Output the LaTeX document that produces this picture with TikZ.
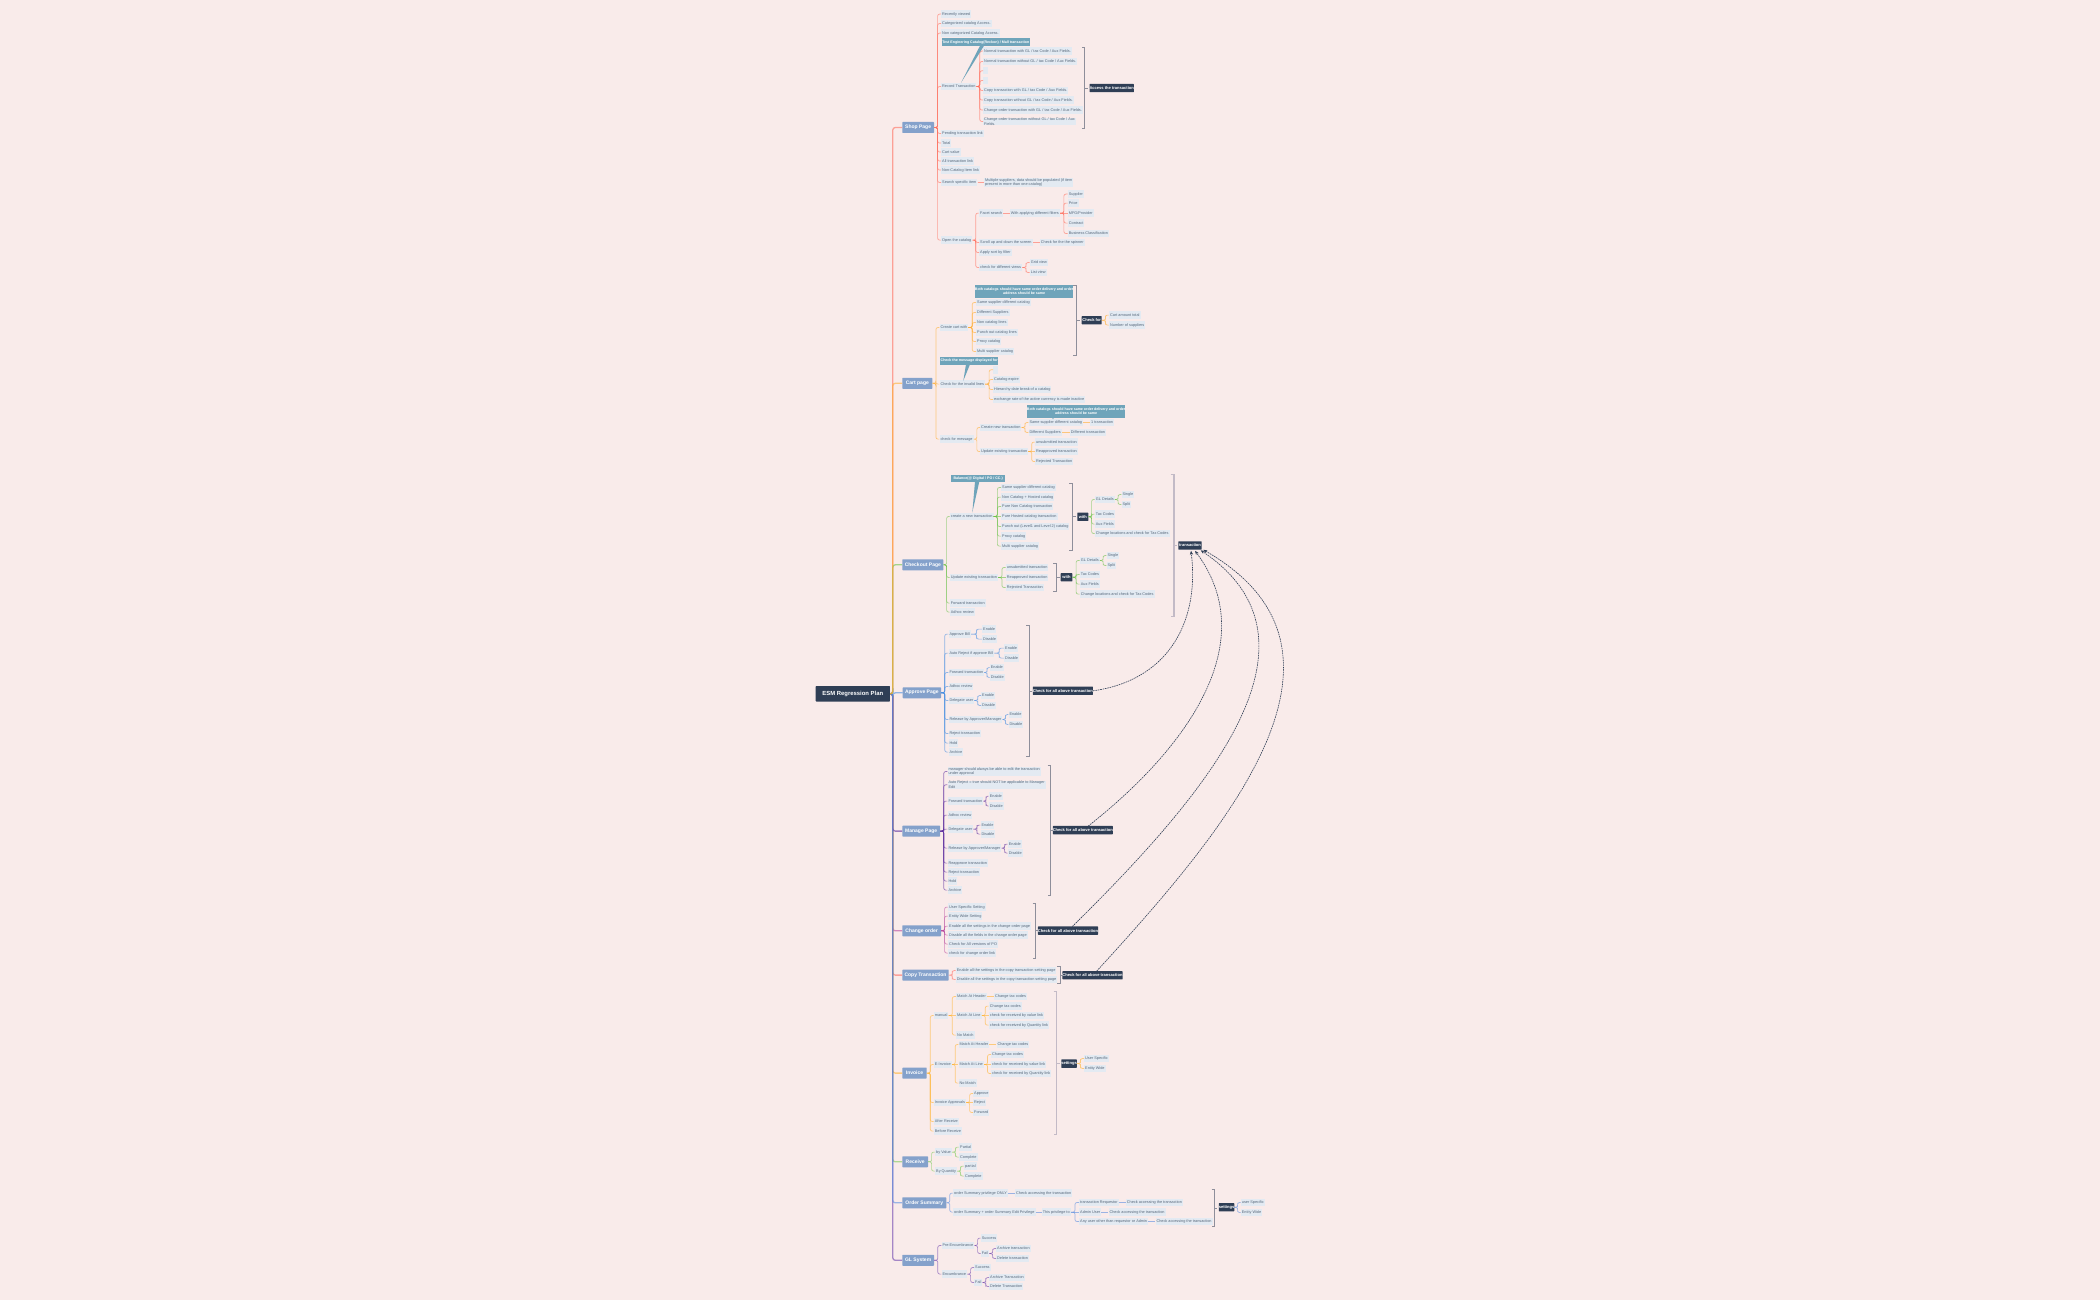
\documentclass[tikz,border=0pt]{standalone}
\usepackage{fontspec}
\setmainfont{Liberation Sans}
\usetikzlibrary{calc,arrows.meta}
\definecolor{bgc}{HTML}{F9EBEA}
\definecolor{leafc}{HTML}{E3EAF2}
\definecolor{leaft}{HTML}{56677A}
\definecolor{pagec}{HTML}{84A1CB}
\definecolor{darkc}{HTML}{2F3E55}
\definecolor{callc}{HTML}{6FA4BA}
\definecolor{brc}{HTML}{8E8E9A}
\definecolor{brl}{HTML}{C3BAC6}
\definecolor{cShop}{HTML}{FF6F5E}
\definecolor{cCart}{HTML}{FFAE33}
\definecolor{cChk}{HTML}{6CC24A}
\definecolor{cApp}{HTML}{4A90E2}
\definecolor{cMan}{HTML}{5E2FA0}
\definecolor{cChg}{HTML}{B8479E}
\definecolor{cCop}{HTML}{FF6F66}
\definecolor{cInv}{HTML}{FFB433}
\definecolor{cRec}{HTML}{7CCB5A}
\definecolor{cSum}{HTML}{5B8FE0}
\definecolor{cGL}{HTML}{6E44AE}
\tikzset{
 leafnode/.style={fill=leafc,text=leaft,inner xsep=1pt,inner ysep=0pt,minimum height=7.4pt,anchor=west,align=left,font=\fontsize{3.82}{4.7}\selectfont},
 pagenode/.style={fill=pagec,text=white,inner sep=0pt,rounded corners=.6pt,font=\fontsize{5}{6}\selectfont\bfseries},
 darknode/.style={fill=darkc,text=white,inner sep=0pt,rounded corners=.5pt,font=\fontsize{4.05}{4.8}\selectfont\bfseries},
 rootnode/.style={fill=darkc,text=white,inner sep=0pt,rounded corners=.6pt,font=\fontsize{5.9}{7.5}\selectfont\bfseries},
 callnode/.style={fill=callc,text=white,inner sep=0pt,align=center,font=\fontsize{3.6}{4.7}\selectfont\bfseries},
 conn/.style={line width=.7pt,rounded corners=2pt,opacity=.6},
 trunkc/.style={line width=1.3pt,rounded corners=2.5pt,opacity=.6},
 bracket/.style={line width=.6pt,draw=brc},
 bracketl/.style={line width=1.1pt,draw=brl},
 dasharrow/.style={draw=darkc,line width=.6pt,dash pattern=on 1.6pt off .8pt,-{Stealth[length=4pt,width=3.2pt]}},
}
\newcommand\Lf[4]{\node[leafnode,xshift=-1pt] (#1) at (#2,#3) {#4};}
\newcommand\Em[3]{\node[leafnode,xshift=-1pt,minimum width=5pt] (#1) at (#2,#3) {};}
\newcommand\Pg[5]{\node[pagenode,minimum width={(#3-#2)*1pt},minimum height=11pt] (#1) at ({(#2+#3)/2},#4) {#5};}
\newcommand\Dk[5]{\node[darknode,minimum width={(#3-#2)*1pt},minimum height=8.3pt] (#1) at ({(#2+#3)/2},#4) {#5};}
\newcommand\Cl[6]{\node[callnode,minimum width={(#3-#2)*1pt},minimum height={(#5-#4)*1pt}] (#1) at ({(#2+#3)/2},{(#4+#5)/2}) {#6};}
\newcommand\Lk[3]{\foreach \cc in {#3}{%
  \path let \p1=(#2.east),\p2=(\cc.west),\n1={abs(\y1-\y2)} in \pgfextra{\xdef\dyval{\n1}};%
  \ifdim\dyval<0.8pt
    \draw[conn,draw=#1] (#2.east) -- (\cc.west);%
  \else
    \draw[conn,draw=#1] (#2.east) -| ($(#2.east)!.5!(\cc.west)$) |- (\cc.west);%
  \fi}}
\newcommand\Tk[2]{\draw[trunkc,draw=#1] (root.east) -| ($(root.east)!.22!(#2.west)$) |- (#2.west);}
\newcommand\Br[6][bracket]{\coordinate (#6t) at (#3,{(#4+#5)/2});\draw[#1] (#2,#4) -- (#3,#4) -- (#3,#5) -- (#2,#5);\draw[#1] (#6t) -- ++(2.8,0);}
\begin{document}
\begin{tikzpicture}[x=1pt,y=-1pt]
\fill[bgc] (0,-0.8) rectangle (2100,1299.2);
\useasboundingbox (0,-0.8) rectangle (2100,1299.2);
% root and pages
\node[rootnode,minimum width=74.3pt,minimum height=15.4pt] (root) at (852.8,693) {ESM Regression Plan};
\Pg{shop}{902.3}{934}{126.7}{Shop Page}
\Pg{cart}{902.3}{932.3}{382.5}{Cart page}
\Pg{chk}{902.3}{943.3}{564}{Checkout Page}
\Pg{app}{902.7}{941}{692}{Approve Page}
\Pg{man}{902.3}{940}{830.3}{Manage Page}
\Pg{chg}{902.3}{941}{930}{Change order}
\Pg{cop}{902.3}{948.7}{974.3}{Copy Transaction}
\Pg{inv}{902.3}{926.7}{1072.3}{Invoice}
\Pg{rcv}{902.3}{928}{1161}{Receive}
\Pg{sum}{902.3}{946.3}{1202}{Order Summary}
\Pg{gls}{902.3}{934}{1259.5}{GL System}
% Shop page
\Lf{rv}{942}{13.3}{Recently viewed}
\Lf{cat}{942}{22.7}{Categorized catalog Access.}
\Lf{ncat}{942}{32.3}{Non categorized Catalog Access.}
\Cl{cbA}{941.5}{1030}{37.7}{45.3}{Test Enginering Catalog(Reckon) / Mall transaction}
\Lf{rec}{942}{85.7}{Record Transaction}
\Lf{na}{984}{50.3}{Normal transaction with GL / tax Code / Aux Fields.}
\Lf{nb}{984}{60.7}{Normal transaction without GL / tax Code / Aux Fields.}
\Em{ea}{984}{70}
\Em{eb}{984}{79.7}
\Lf{nc}{984}{89.7}{Copy transaction with GL / tax Code / Aux Fields.}
\Lf{nd}{984}{99.3}{Copy transaction without GL / tax Code / Aux Fields.}
\Lf{ne}{984}{109.3}{Change order transaction with GL / tax Code / Aux Fields.}
\Lf{nf}{984}{120.7}{Change order transaction without GL / tax Code / Aux\\Fields.}
\Dk{dA}{1089.7}{1133.7}{87.3}{Access the transaction}
\Lf{pend}{942}{132.7}{Pending transaction link}
\Lf{tot}{942}{142.3}{Total}
\Lf{cv}{942}{151.3}{Cart value}
\Lf{allt}{942}{160.3}{All transaction link}
\Lf{nci}{942}{169.3}{Non-Catalog Item link}
\Lf{ss}{942}{181.7}{Search specific item}
\Lf{mult}{985}{181.7}{Multiple suppliers, data should be populated (if item\\present in more than one catalog)}
\Lf{oc}{942}{239.3}{Open the catalog}
\Lf{fs}{980}{212.3}{Facet search}
\Lf{wa}{1010.7}{212.3}{With applying different filters}
\Lf{fa}{1068.7}{193.3}{Supplier}
\Lf{fb}{1068.7}{202.3}{Price}
\Lf{fc}{1068.7}{212.3}{MFG/Provider}
\Lf{fd}{1068.7}{222.3}{Contract}
\Lf{fe}{1068.7}{232.7}{Business Classification}
\Lf{sc}{980}{241.7}{Scroll up and down the screen}
\Lf{spin}{1040.7}{241.7}{Check for the the spinner}
\Lf{asf}{980}{251.7}{Apply sort by filter}
\Lf{dv}{980}{266.7}{check for different views}
\Lf{gv}{1030.7}{261.7}{Grid view}
\Lf{lv}{1030.7}{271.7}{List view}
% Cart page
\Cl{cbB}{977}{1071.3}{284}{296.7}{Both catalogs should have same order delivery and order\\address should be same}
\Lf{cca}{977}{301.7}{Same supplier different catalog}
\Lf{ccb}{977}{311.7}{Different Suppliers}
\Lf{ccc}{977}{321.7}{Non catalog lines}
\Lf{ccd}{977}{331.7}{Punch out catalog lines}
\Lf{cce}{977}{340.7}{Proxy catalog}
\Lf{ccf}{977}{350.7}{Multi supplier catalog}
\Lf{cc}{940.3}{326.7}{Create cart with}
\Dk{dB}{1081.7}{1101.7}{319.5}{Check for}
\Lf{camt}{1110}{314.3}{Cart amount total}
\Lf{cnum}{1110}{324.3}{Number of suppliers}
\Cl{cbC}{940}{998.3}{356.3}{363.7}{Check the message displayed for}
\Lf{ci}{940.3}{383.3}{Check for the invalid lines}
\Em{ec}{994}{369}
\Lf{ce}{994}{378.7}{Catalog expire}
\Lf{hd}{994}{388.7}{Hierarchy date break of a catalog}
\Lf{ex}{994}{398.7}{exchange rate of the active currency is made inactive}
\Lf{cm}{940.3}{438.3}{check for message}
\Cl{cbD}{1029}{1123.3}{404.3}{416.7}{Both catalogs should have same order delivery and order\\address should be same}
\Lf{cn}{981}{426.7}{Create new transaction}
\Lf{sa}{1029.3}{421.7}{Same supplier different catalog}
\Lf{onet}{1091}{421.7}{1 transaction}
\Lf{sb}{1029.3}{431.7}{Different Suppliers}
\Lf{dift}{1070.7}{431.7}{Different transaction}
\Lf{cu}{981}{450.7}{Update existing transaction}
\Lf{cua}{1036}{441.3}{unsubmitted transaction}
\Lf{cub}{1036}{450.7}{Reapproved transaction}
\Lf{cuc}{1036}{460.7}{Rejected Transaction}
% Checkout
\Cl{cbE}{951}{1005.3}{474}{481}{Balance(@ Digital / PO / CC.)}
\Lf{kn}{950.7}{515.7}{create a new transaction}
\Lf{ka}{1002}{486.7}{Same supplier different catalog}
\Lf{kb}{1002}{496.3}{Non Catalog + Hosted catalog}
\Lf{kc}{1002}{505.7}{Pure Non Catalog transaction}
\Lf{kd}{1002}{515.7}{Pure Hosted catalog transaction}
\Lf{ke}{1002}{525.7}{Punch out (Level1 and Level 2) catalog}
\Lf{kf}{1002}{535.3}{Proxy catalog}
\Lf{kg}{1002}{545.3}{Multi supplier catalog}
\Dk{dC}{1077.3}{1088.3}{516}{with}
\Lf{ga}{1095.7}{498.7}{GL Details}
\Lf{gb}{1122.3}{493.7}{Single}
\Lf{gc}{1122.3}{503.7}{Split}
\Lf{gd}{1095.7}{513.3}{Tax Codes}
\Lf{ge}{1095.7}{523.3}{Aux Fields}
\Lf{gf}{1095.7}{532.7}{Change locations and check for Tax Codes}
\Lf{ku}{950.7}{576.7}{Update existing transaction}
\Lf{ua}{1006.7}{566.7}{unsubmitted transaction}
\Lf{ub}{1006.7}{576.7}{Reapproved transaction}
\Lf{uc}{1006.7}{586.7}{Rejected Transaction}
\Dk{dD}{1060.7}{1072.3}{576.5}{with}
\Lf{ha}{1080.7}{559.7}{GL Details}
\Lf{hb}{1107.3}{554.7}{Single}
\Lf{hc}{1107.3}{564.7}{Split}
\Lf{hd2}{1080.7}{573.7}{Tax Codes}
\Lf{he}{1080.7}{583.3}{Aux Fields}
\Lf{hf}{1080.7}{593.3}{Change locations and check for Tax Codes}
\Lf{kfw}{950.7}{602.3}{Forward transaction}
\Lf{kad}{950.7}{611.3}{Adhoc review}
\Dk{tr}{1178.3}{1201.7}{544.7}{transaction}
% Approve
\Lf{aa}{949.3}{633.3}{Approve Bill}
\Lf{aae}{983}{628.3}{Enable}
\Lf{aad}{983}{638.3}{Disable}
\Lf{ab}{949.3}{652.3}{Auto Reject if approve Bill}
\Lf{abe}{1005}{647.3}{Enable}
\Lf{abd}{1005}{657.3}{Disable}
\Lf{ac}{949.3}{671.7}{Forward transaction}
\Lf{ace}{990.7}{666.7}{Enable}
\Lf{acd}{990.7}{676.7}{Disable}
\Lf{ad}{949.3}{685.7}{Adhoc review}
\Lf{ae}{949.3}{699.7}{Delegate user}
\Lf{aee}{982}{694.7}{Enable}
\Lf{aed}{982}{704.7}{Disable}
\Lf{af}{949.3}{718.7}{Release by Approver/Manager}
\Lf{afe}{1009.3}{713.7}{Enable}
\Lf{afd}{1009.3}{723.7}{Disable}
\Lf{ag}{949.3}{732.7}{Reject transaction}
\Lf{ah}{949.3}{742.3}{Hold}
\Lf{ai}{949.3}{751.3}{Archive}
\Dk{dE}{1033.7}{1092}{690}{Check for all above transaction}
% Manage
\Lf{ma}{948.3}{770.7}{manager should always be able to edit the transaction\\under approval}
\Lf{mb}{948.3}{784}{Auto Reject = true should NOT be applicable to Manager\\Edit}
\Lf{mc}{948.3}{800.3}{Forward transaction}
\Lf{mce}{989.7}{795.3}{Enable}
\Lf{mcd}{989.7}{805.3}{Disable}
\Lf{md}{948.3}{814.3}{Adhoc review}
\Lf{me}{948.3}{828.3}{Delegate user}
\Lf{mee}{981.3}{824.3}{Enable}
\Lf{med}{981.3}{833.3}{Disable}
\Lf{mf}{948.3}{847.3}{Release by Approver/Manager}
\Lf{mfe}{1008.7}{843.3}{Enable}
\Lf{mfd}{1008.7}{852.3}{Disable}
\Lf{mg}{948.3}{862.3}{Reapprove transaction}
\Lf{mh}{948.3}{871.3}{Reject transaction}
\Lf{mi}{948.3}{880.3}{Hold}
\Lf{mj}{948.3}{889.3}{Archive}
\Dk{dF}{1055}{1110.7}{829.3}{Check for all above transaction}
% Change order
\Lf{oa}{949}{906.3}{User Specific Setting}
\Lf{ob}{949}{915.3}{Entity Wide Setting}
\Lf{occ}{949}{925.3}{Enable all the settings in the change order page}
\Lf{od}{949}{934.3}{Disable all the fields in the change order page}
\Lf{oe}{949}{943.3}{Check for All versions of PO}
\Lf{of}{949}{952.3}{check for change order link}
\Dk{dG}{1040}{1096}{929.8}{Check for all above transaction}
% Copy
\Lf{pa}{956.7}{969.7}{Enable all the settings in the copy transaction setting page}
\Lf{pb}{956.7}{978.7}{Disable all the settings in the copy transaction setting page}
\Dk{dH}{1064.7}{1120.3}{974.5}{Check for all above transaction}
% Invoice
\Lf{im}{934.7}{1014.7}{manual}
\Lf{ima}{957}{995.7}{Match At Header}
\Lf{imb}{995}{995.7}{Change tax codes}
\Lf{imc}{957}{1014.7}{Match At Line}
\Lf{imd}{989.7}{1005.3}{Change tax codes}
\Lf{ime}{989.7}{1014.7}{check for received by value link}
\Lf{imf}{989.7}{1024.3}{check for received by Quantity link}
\Lf{img}{957}{1034.3}{No Match}
\Lf{ie}{934.7}{1063.7}{E-Invoice}
\Lf{iea}{959.3}{1043.7}{Match At Header}
\Lf{ieb}{997.3}{1043.7}{Change tax codes}
\Lf{iec}{959.3}{1063.7}{Match At Line}
\Lf{ied}{992}{1053.7}{Change tax codes}
\Lf{iee}{992}{1063.7}{check for received by value link}
\Lf{ief}{992}{1072.7}{check for received by Quantity link}
\Lf{ieg}{959.3}{1082.3}{No Match}
\Lf{ia}{934.7}{1101.7}{Invoice Approvals}
\Lf{iaa}{974}{1092.7}{Approve}
\Lf{iab}{974}{1101.7}{Reject}
\Lf{iac}{974}{1111.7}{Forward}
\Lf{ib}{934.7}{1120.7}{After  Receive}
\Lf{ic}{934.7}{1130.3}{Before  Receive}
\Dk{dI}{1061.3}{1076.7}{1062.8}{settings}
\Lf{su}{1085}{1057.7}{User Specific}
\Lf{sw}{1085}{1067.7}{Entity Wide}
% Receive
\Lf{ra}{936}{1151.3}{by Value}
\Lf{rb}{960}{1146.3}{Partial}
\Lf{rc}{960}{1156.3}{Complete}
\Lf{rd}{936}{1170.3}{By Quantity}
\Lf{re}{965}{1165.3}{partial}
\Lf{rf}{965}{1175.3}{Complete}
% Order Summary
\Lf{ya}{954}{1192.3}{order Summary privilege ONLY}
\Lf{yb}{1016}{1192.3}{Check accessing the transaction}
\Lf{yc}{954}{1211.3}{order Summary + order Summary Edit Privilege}
\Lf{yd}{1042.7}{1211.3}{This privilege to}
\Lf{ye}{1080}{1201.7}{transaction Requestor}
\Lf{yf}{1126.7}{1201.7}{Check accessing the transaction}
\Lf{yg}{1080}{1211.3}{Admin User}
\Lf{yh}{1109.3}{1211.3}{Check accessing the transaction}
\Lf{yi}{1080}{1220.7}{Any user other than requestor or Admin}
\Lf{yj}{1156.3}{1220.7}{Check accessing the transaction}
\Dk{dJ}{1219}{1234}{1206.5}{settings}
\Lf{yk}{1241.7}{1201.7}{user Specific}
\Lf{yl}{1241.7}{1211.7}{Entity Wide}
% GL System
\Lf{la}{942.3}{1244.7}{Pre-Encumbrance}
\Lf{lb}{981.7}{1237.3}{Success}
\Lf{lc}{981.7}{1252.7}{Fail}
\Lf{ld}{997}{1247.7}{Archive transaction}
\Lf{le}{997}{1257.7}{Delete transaction}
\Lf{lf}{942.3}{1273.3}{Encumbrance}
\Lf{lg}{975}{1266.7}{Success}
\Lf{lh}{975}{1281.7}{Fail}
\Lf{li}{990}{1276.7}{Archive Transaction}
\Lf{lj}{990}{1285.7}{Delete Transaction}
% trunk, bottom layer first
\Tk{cChg}{chg}\Tk{cCop}{cop}\Tk{cInv}{inv}\Tk{cRec}{rcv}\Tk{cMan}{man}\Tk{cGL}{gls}\Tk{cSum}{sum}
\Tk{cApp}{app}\Tk{cShop}{shop}\Tk{cChk}{chk}\Tk{cCart}{cart}
% links
\Lk{cShop}{shop}{rv,cat,ncat,rec,pend,tot,cv,allt,nci,ss,oc}
\Lk{cShop}{rec}{na,nb,ea,eb,nc,nd,ne,nf}
\Lk{cShop}{ss}{mult}
\Lk{cShop}{oc}{fs,sc,asf,dv}
\Lk{cShop}{fs}{wa}
\Lk{cShop}{wa}{fa,fb,fc,fd,fe}
\Lk{cShop}{sc}{spin}
\Lk{cShop}{dv}{gv,lv}
\Lk{cCart}{cart}{cc,ci,cm}
\Lk{cCart}{cc}{cca,ccb,ccc,ccd,cce,ccf}
\Lk{cCart}{dB}{camt,cnum}
\Lk{cCart}{ci}{ec,ce,hd,ex}
\Lk{cCart}{cm}{cn,cu}
\Lk{cCart}{cn}{sa,sb}
\Lk{cCart}{sa}{onet}
\Lk{cCart}{sb}{dift}
\Lk{cCart}{cu}{cua,cub,cuc}
\Lk{cChk}{chk}{kn,ku,kfw,kad}
\Lk{cChk}{kn}{ka,kb,kc,kd,ke,kf,kg}
\Lk{cChk}{dC}{ga,gd,ge,gf}
\Lk{cChk}{ga}{gb,gc}
\Lk{cChk}{ku}{ua,ub,uc}
\Lk{cChk}{dD}{ha,hd2,he,hf}
\Lk{cChk}{ha}{hb,hc}
\Lk{cApp}{app}{aa,ab,ac,ad,ae,af,ag,ah,ai}
\Lk{cApp}{aa}{aae,aad}
\Lk{cApp}{ab}{abe,abd}
\Lk{cApp}{ac}{ace,acd}
\Lk{cApp}{ae}{aee,aed}
\Lk{cApp}{af}{afe,afd}
\Lk{cMan}{man}{ma,mb,mc,md,me,mf,mg,mh,mi,mj}
\Lk{cMan}{mc}{mce,mcd}
\Lk{cMan}{me}{mee,med}
\Lk{cMan}{mf}{mfe,mfd}
\Lk{cChg}{chg}{oa,ob,occ,od,oe,of}
\Lk{cCop}{cop}{pa,pb}
\Lk{cInv}{inv}{im,ie,ia,ib,ic}
\Lk{cInv}{im}{ima,imc,img}
\Lk{cInv}{ima}{imb}
\Lk{cInv}{imc}{imd,ime,imf}
\Lk{cInv}{ie}{iea,iec,ieg}
\Lk{cInv}{iea}{ieb}
\Lk{cInv}{iec}{ied,iee,ief}
\Lk{cInv}{ia}{iaa,iab,iac}
\Lk{cInv}{dI}{su,sw}
\Lk{cRec}{rcv}{ra,rd}
\Lk{cRec}{ra}{rb,rc}
\Lk{cRec}{rd}{re,rf}
\Lk{cSum}{sum}{ya,yc}
\Lk{cSum}{ya}{yb}
\Lk{cSum}{yc}{yd}
\Lk{cSum}{yd}{ye,yg,yi}
\Lk{cSum}{ye}{yf}
\Lk{cSum}{yg}{yh}
\Lk{cSum}{yi}{yj}
\Lk{cSum}{dJ}{yk,yl}
\Lk{cGL}{gls}{la,lf}
\Lk{cGL}{la}{lb,lc}
\Lk{cGL}{lc}{ld,le}
\Lk{cGL}{lf}{lg,lh}
\Lk{cGL}{lh}{li,lj}
% brackets
\Br{1082}{1084.7}{46.7}{127.7}{dA}
\Br{1073.3}{1076.7}{284}{354.7}{dB}
\Br{1069.3}{1072.7}{482.3}{549}{dC}
\Br{1053.3}{1056.7}{562.3}{590.3}{dD}
\Br[bracketl]{1170.7}{1174}{473.3}{615.7}{tr}
\Br{1026}{1029}{624.7}{755.3}{dE}
\Br{1047.7}{1050.3}{764.3}{894}{dF}
\Br{1032.7}{1035.3}{902.7}{957}{dG}
\Br{1057}{1060}{965.7}{982.7}{dH}
\Br[bracketl]{1053.7}{1056.7}{991}{1133.7}{dI}
\Br{1211.7}{1214.3}{1188.3}{1225.7}{dJ}
% callout pointers
\fill[callc] (980,45) -- (984,45) -- (961,82) -- cycle;
\fill[callc] (966,363.5) -- (970,363.5) -- (963.3,380) -- cycle;
\fill[callc] (975,480.8) -- (979.3,480.8) -- (972.3,511.7) -- cycle;
\fill[callc] (1009.7,296.5) -- (1011.7,296.5) -- (1010.7,298.5) -- cycle;
\fill[callc] (1052,416.5) -- (1054,416.5) -- (1053,418.5) -- cycle;
% dashed arrows
\coordinate (ea1) at (1191,550);
\coordinate (ea2) at (1195,550);
\coordinate (ea3) at (1200.7,549.5);
\coordinate (ea4) at (1203.3,549);
\coordinate (sF) at (1088.3,825.2);
\coordinate (sG) at (1072.3,925.7);
\coordinate (sH) at (1096.7,970.3);
\draw[dasharrow] (dE.east) .. controls (1165,680) and (1200,625) .. (ea1);
\draw[dasharrow] (sF) .. controls (1190,745) and (1262,640) .. (ea2);
\draw[dasharrow] (sG) .. controls (1210,790) and (1335,640) .. (ea3);
\draw[dasharrow] (sH) .. controls (1225,830) and (1380,650) .. (ea4);
\end{tikzpicture}
\end{document}
